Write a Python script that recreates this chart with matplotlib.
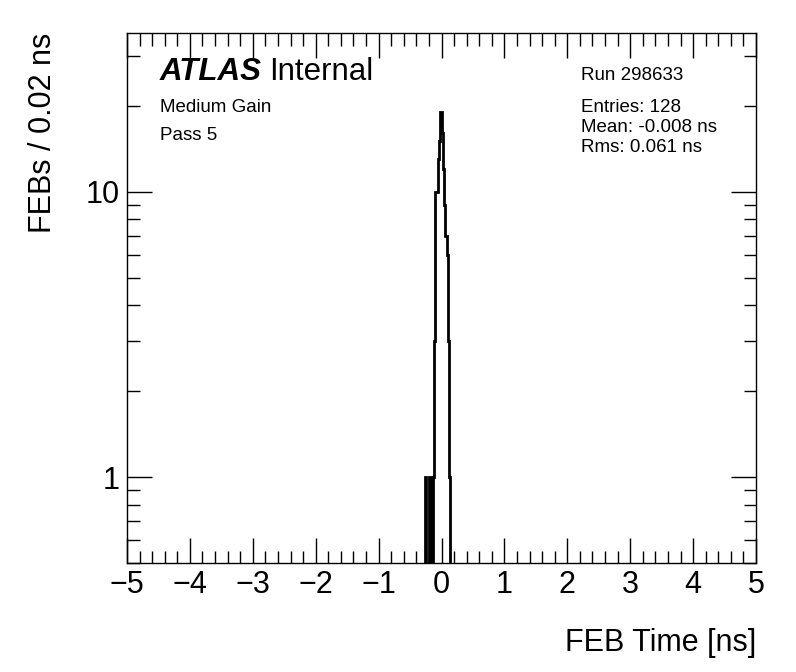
#!/bin/python3
"""
FEB time distribution, ATLAS style histogram on log scale
"""

import numpy as np
import matplotlib
matplotlib.use('Agg')
import matplotlib.pyplot as plt
from matplotlib.ticker import MultipleLocator, LogLocator, NullFormatter, FixedLocator

# data: lower bin edges (ns) of filled bins and their counts, bin width 0.02 ns
bin_low = [-0.26, -0.20, -0.18, -0.14, -0.12, -0.10, -0.08, -0.06, -0.04,
           -0.02, 0.00, 0.02, 0.04, 0.06, 0.08, 0.10, 0.12]
counts = [1, 1, 1, 1, 3, 10, 10, 13, 15, 19, 16, 12, 9, 7, 6, 3, 1]
bin_width = 0.02
xrange_ = (-5.0, 5.0)

run_text = 'Run 298633'
stat_lines = ['Entries: 128', 'Mean: -0.008 ns', 'Rms: 0.061 ns']
label_lines = ['Medium Gain', 'Pass 5']

plt.rcParams['font.family'] = ['Liberation Sans', 'DejaVu Sans']
plt.rcParams['axes.linewidth'] = 1.0

nbins = int(round((xrange_[1] - xrange_[0]) / bin_width))
edges = np.linspace(xrange_[0], xrange_[1], nbins + 1)
hist = np.zeros(nbins)
for lo, c in zip(bin_low, counts):
    i = int(round((lo - xrange_[0]) / bin_width))
    hist[i] = c

W, H = 796, 672
fig = plt.figure(figsize=(W / 100, H / 100), dpi=100)
ax = fig.add_axes([127 / W, 1 - 563 / H, (756 - 127) / W, (563 - 33) / H])

ax.set_yscale('log')
ax.stairs(hist, edges, color='black', linewidth=2, baseline=0)
ax.set_xlim(xrange_)
ax.set_ylim(0.5, 36)

ax.xaxis.set_major_locator(MultipleLocator(1))
ax.xaxis.set_minor_locator(MultipleLocator(0.2))
ax.yaxis.set_major_locator(FixedLocator([1, 10]))
ax.yaxis.set_minor_locator(LogLocator(base=10, subs=np.arange(2, 10)))
ax.yaxis.set_minor_formatter(NullFormatter())
ax.set_yticklabels(['1', '10'])

ax.tick_params(which='both', direction='in', top=True, right=True,
               labelsize=22, width=1)
ax.tick_params(axis='x', which='major', length=18, pad=5)
ax.tick_params(axis='x', which='minor', length=9)
ax.tick_params(axis='y', which='major', length=18, pad=5)
ax.tick_params(axis='y', which='minor', length=9)

ax.set_xlabel('FEB Time [ns]', fontsize=22, loc='right', labelpad=20)
ax.set_ylabel('FEBs / 0.02 ns', fontsize=22, loc='top', labelpad=20)

# ATLAS label
t = fig.text(160 / W, 1 - 80 / H, 'ATLAS', fontsize=22.5, fontweight='bold',
             fontstyle='italic', ha='left', va='baseline')
fig.canvas.draw()
bb = t.get_window_extent()
fig.text(bb.x1 / W + 7 / W, 1 - 80 / H, 'Internal', fontsize=22.5,
         ha='left', va='baseline')

for i, s in enumerate(label_lines):
    fig.text(160 / W, 1 - (107 + 28 * i) / H, s, fontsize=13.5,
             ha='left', va='center')

fig.text(581 / W, 1 - 75 / H, run_text, fontsize=13.5, ha='left', va='center')
for i, s in enumerate(stat_lines):
    fig.text(581 / W, 1 - (107 + 20 * i) / H, s, fontsize=13.5,
             ha='left', va='center')

fig.savefig('out.png', dpi=100)
plt.close()
